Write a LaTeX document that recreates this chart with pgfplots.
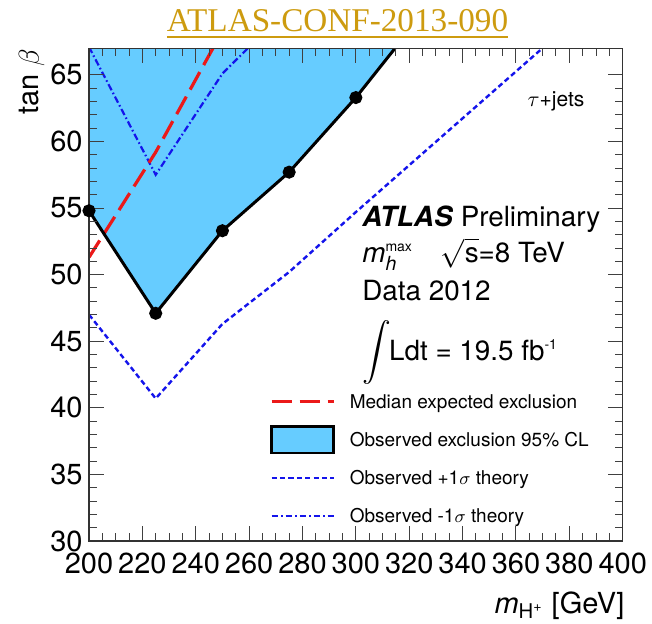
\documentclass[border=0pt]{standalone}
\usepackage{amsmath}
\usepackage{fontspec}
\setmainfont{TeX Gyre Heros}
\newfontfamily\titlefont{Liberation Serif}
\usepackage{pgfplots}
\usepackage{pgfplotstable}
\pgfplotsset{compat=1.18}

\definecolor{obsfill}{RGB}{102,204,255}
\definecolor{expred}{RGB}{235,25,25}
\definecolor{sigblue}{RGB}{20,20,235}
\definecolor{confgold}{RGB}{205,155,15}

% observed 95% CL exclusion limit (tan beta vs m_H+)
\pgfplotstableread{
mH  tanb
200 54.8
225 47.1
250 53.3
275 57.7
300 63.3
325 69.6
}\observed

% excluded region: observed limit closed above the plot range
\pgfplotstableread{
mH  tanb
200 72
200 54.8
225 47.1
250 53.3
275 57.7
300 63.3
325 69.6
325 72
}\obsregion

\pgfplotstableread{
mH  tanb
200 51.3
225 59.2
250 68.3
}\expected

\pgfplotstableread{
mH  tanb
200 47.0
225 40.7
250 46.3
275 50.2
300 54.7
325 59.1
350 63.5
375 67.9
}\theoryup

\pgfplotstableread{
mH  tanb
200 67.1
225 57.5
250 65.1
275 70.1
}\theorydown

\begin{document}
\begin{tikzpicture}
\begin{axis}[
  name=ax,
  scale only axis, width=266.85pt, height=246.35pt,
  xmin=200, xmax=400, ymin=30, ymax=67,
  xtick={200,220,...,400}, ytick={30,35,...,65},
  minor x tick num=3, minor y tick num=4,
  tick align=inside, xtick pos=both, ytick pos=both,
  major tick length=7.5pt, minor tick length=4pt,
  tick style={black!75, line width=0.5pt},
  axis line style={black!80, line width=0.6pt},
  axis on top,
  /pgf/number format/assume math mode=true,
  /pgf/number format/1000 sep={},
  tick label style={font=\fontsize{14.5}{16}\selectfont},
  xticklabel style={inner sep=0pt, yshift=-6pt},
  yticklabel style={inner sep=0pt, xshift=-3pt},
  legend style={draw=none, fill=none, inner sep=0pt, outer sep=0pt,
    at={(0.3391,0.2965)}, anchor=north west,
    font=\fontsize{9.5}{11}\selectfont,
    row sep=12.25pt, column sep=7.3pt,
    nodes={inner sep=0pt, text height=6.8pt, text depth=0pt}},
  legend cell align=left,
  legend image code/.code={\draw[#1] (0pt,0pt) -- (31pt,0pt);},
]
% excluded area
\addplot[forget plot, fill=obsfill, draw=none] table[x=mH, y=tanb] {\obsregion} -- cycle;
% theory variations of the observed limit
\addplot[forget plot, sigblue, line width=1.2pt, dash pattern=on 2.6pt off 1.6pt] table[x=mH, y=tanb] {\theoryup};
\addplot[forget plot, sigblue, line width=1.1pt, dash pattern=on 3.4pt off 1.4pt on 0.8pt off 1.4pt] table[x=mH, y=tanb] {\theorydown};
% median expected
\addplot[forget plot, expred, line width=1.6pt, dash pattern=on 10pt off 4pt] table[x=mH, y=tanb] {\expected};
% observed limit
\addplot[forget plot, black, line width=1.5pt, mark=*, mark size=2.5pt] table[x=mH, y=tanb] {\observed};

\addlegendimage{expred, line width=1.6pt, dash pattern=on 10pt off 4pt}
\addlegendentry{Median expected exclusion}
\addlegendimage{legend image code/.code={\draw[overlay, fill=obsfill, draw=black, line width=1.2pt] (0pt,-6.6pt) rectangle (31pt,6.6pt);}}
\addlegendentry{Observed exclusion 95\% CL}
\addlegendimage{sigblue, line width=1.2pt, dash pattern=on 2.6pt off 1.6pt}
\addlegendentry{Observed +1$\sigma$ theory}
\addlegendimage{sigblue, line width=1.1pt, dash pattern=on 3.4pt off 1.4pt on 0.8pt off 1.4pt}
\addlegendentry{Observed -1$\sigma$ theory}

\node[anchor=base west, inner sep=0pt, font=\fontsize{10.5}{12}\selectfont] at (axis cs:364.2,62.66) {$\tau$+jets};
\node[anchor=base west, inner sep=0pt, font=\fontsize{13.9}{16}\selectfont] at (axis cs:302.3,53.58) {\textbf{\textit{ATLAS}} Preliminary};
\node[anchor=base west, inner sep=0pt, font=\fontsize{13.9}{16}\selectfont] at (axis cs:302.3,50.95) {\textit{m}$_{\textit{h}}^{\mbox{\scriptsize max}}$\quad$\sqrt{\mbox{s}}$=8 TeV};
\node[anchor=base west, inner sep=0pt, font=\fontsize{13.9}{16}\selectfont] at (axis cs:302.3,48.08) {Data 2012};
\node[anchor=base west, inner sep=0pt, font=\fontsize{13.9}{16}\selectfont] at (axis cs:302.3,43.58) {$\displaystyle\int$\hspace{-1pt}Ldt = 19.5 fb$^{\mbox{\scriptsize -1}}$};
\end{axis}

\node[rotate=90, anchor=south east, inner sep=0pt, font=\fontsize{14.5}{16}\selectfont] at ([xshift=-22pt]ax.north west) {tan $\beta$};
\node[anchor=base east, inner sep=0pt, font=\fontsize{14.5}{16}\selectfont] at ([xshift=1pt, yshift=-36.5pt]ax.south east) {\textit{m}\textsubscript{H\textsuperscript{+}} [GeV]};
\node[anchor=base, inner sep=0pt, text=confgold, font=\titlefont\fontsize{16.6}{18}\selectfont] at ([xshift=124.25pt, yshift=8.15pt]ax.north west) {\underline{ATLAS-CONF-2013-090}};

\pgfresetboundingbox
\path[use as bounding box] ([shift={(-44.5pt,-41.5pt)}]ax.south west) rectangle ([shift={(14.65pt,24.15pt)}]ax.north east);
\end{tikzpicture}
\end{document}
